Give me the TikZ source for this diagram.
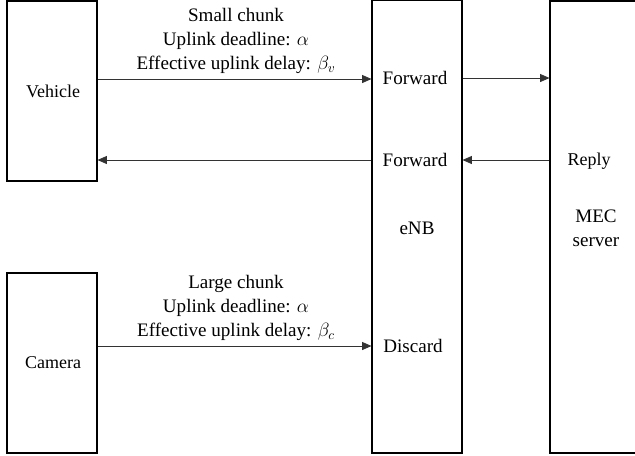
\documentclass[tikz,border=0pt]{standalone}
\usepackage{amsmath}
\usepackage{fontspec}
\setmainfont{Liberation Serif}
\usepackage{tikz}
\usetikzlibrary{arrows.meta}
\usetikzlibrary{positioning}

\begin{document}
\begin{tikzpicture}
	[x=0.75pt, y=-0.75pt, thick,
	 unit/.style = {draw, line width=0.8pt, rectangle, minimum width=67.5pt, inner sep=0pt},
	 txt/.style = {font=\fontsize{14.3}{18}\selectfont, inner sep=0pt, align=center},
	 unitname/.style = {inner sep=0pt, align=center, font=\fontsize{13.5}{18}\selectfont},
	 msg/.style = {line width=0.6pt, draw=black!80, -{Triangle[length=7pt, width=6pt]}}]
	\useasboundingbox (0,0) rectangle (635,455);
	\node[unit, minimum height=135pt] (veh) at (52,91) {};
	\node[unit, minimum height=135pt] (cam) at (52,363) {};
	\node[unit, minimum height=339.75pt] (enb) at (417,226.5) {};
	\node[unit, minimum height=339pt] (mec) at (595,227) {};
	\node[unitname] (vehT) at (53,91) {Vehicle};
	\node[unitname] (camT) at (53,363) {Camera};
	\node[txt] (fwdA) at (415,78) {Forward};
	\node[txt] (fwdB) at (415,160) {Forward};
	\node[txt] (enbT) at (417,228) {eNB};
	\node[txt] (disc) at (413,346) {Discard};
	\node[unitname] (reply) at (589,161) {Reply};
	\node[txt] (mecT) at (596,228) {MEC\\server};
	\node[txt] (upV) at (236,41) {Small chunk\\Uplink deadline: $\alpha$\\Effective uplink delay: $\beta_v$};
	\node[txt] (upC) at (236,308) {Large chunk\\Uplink deadline: $\alpha$\\Effective uplink delay: $\beta_c$};
	\draw[msg] (veh.east |- 0,79) -- (enb.west |- 0,79);
	\draw[msg] (enb.east |- fwdA) -- (mec.west |- fwdA);
	\draw[msg] (mec.west |- fwdB) -- (enb.east |- fwdB);
	\draw[msg] (enb.west |- fwdB) -- (veh.east |- fwdB);
	\draw[msg] (cam.east |- disc) -- (enb.west |- disc);
\end{tikzpicture}
\end{document}
